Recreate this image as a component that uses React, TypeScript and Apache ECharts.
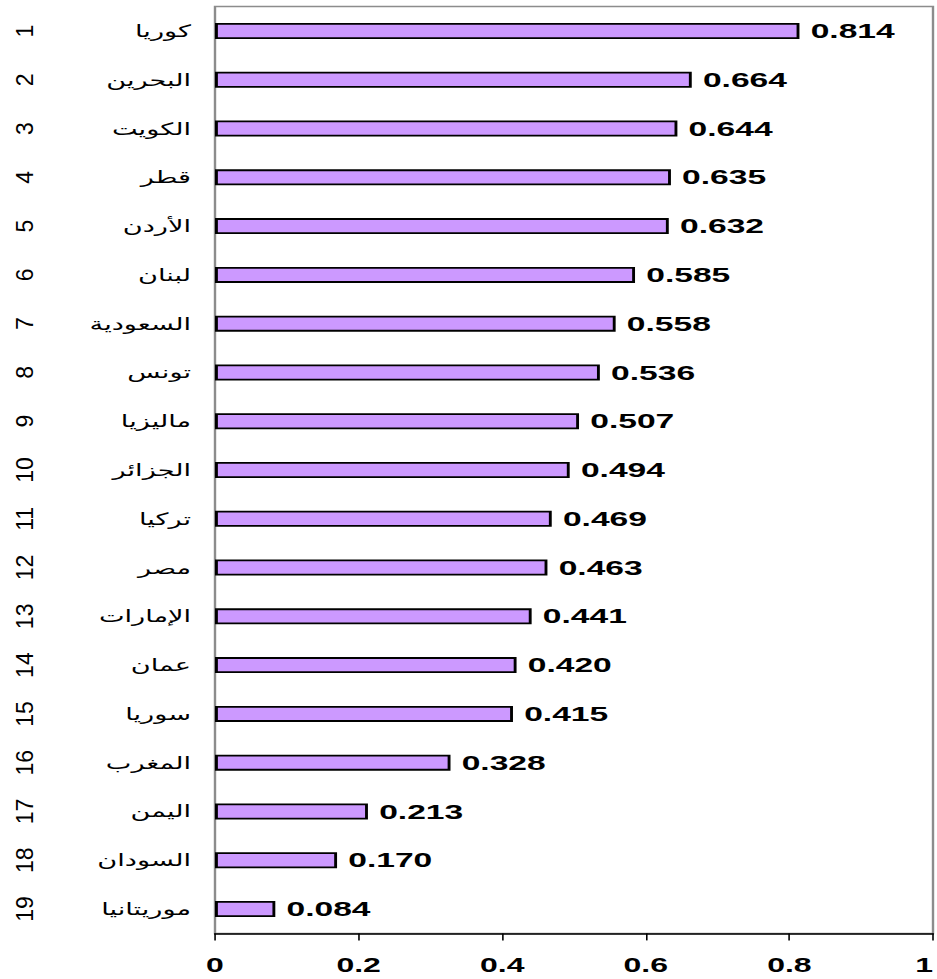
import React, { useEffect, useRef } from 'react';
import * as echarts from 'echarts';

const countries = [
  'كوريا', 'البحرين', 'الكويت', 'قطر', 'الأردن', 'لبنان', 'السعودية', 'تونس', 'ماليزيا', 'الجزائر',
  'تركيا', 'مصر', 'الإمارات', 'عمان', 'سوريا', 'المغرب', 'اليمن', 'السودان', 'موريتانيا',
];
const ranks = ['1', '2', '3', '4', '5', '6', '7', '8', '9', '10', '11', '12', '13', '14', '15', '16', '17', '18', '19'];
const values = [
  0.814, 0.664, 0.644, 0.635, 0.632, 0.585, 0.558, 0.536, 0.507, 0.494,
  0.469, 0.463, 0.441, 0.42, 0.415, 0.328, 0.213, 0.17, 0.084,
];
const xMin = 0;
const xMax = 1;
const xStep = 0.2;

const PAGE_W = 937;
const PAGE_H = 979;
const INNER_W = 586;
const SX = PAGE_W / INNER_W;
const GRID_TOP = 6.6;
const GRID_BOTTOM = PAGE_H - 933.4;

export default function App() {
  const ref = useRef<HTMLDivElement>(null);
  const ref2 = useRef<HTMLDivElement>(null);
  useEffect(() => {
    if (!ref.current || !ref2.current) return;
    const chart = echarts.init(ref.current, undefined, { renderer: 'svg', width: INNER_W, height: PAGE_H });
    const gl = 215 / SX;
    const gr = INNER_W - 933 / SX;
    chart.setOption({
      animation: false,
      grid: {
        left: gl,
        right: gr,
        top: GRID_TOP,
        bottom: GRID_BOTTOM,
        outerBoundsMode: 'none',
        containLabel: false,
        show: true,
        borderColor: '#8c8c8c',
        borderWidth: 1.5,
        backgroundColor: 'transparent',
      },
      xAxis: {
        type: 'value',
        min: xMin,
        max: xMax,
        interval: xStep,
        splitLine: { show: false },
        axisLine: { show: true, lineStyle: { color: '#000', width: 1.5 } },
        axisTick: { show: true, length: 7, lineStyle: { color: '#000', width: 1 } },
        axisLabel: {
          margin: 22,
          fontSize: 20,
          fontWeight: 'bold',
          fontFamily: 'Arial, "Liberation Sans", sans-serif',
          color: '#000',
          alignMaxLabel: 'right',
          formatter: (v: number) => String(Math.round(v * 10) / 10),
        },
      },
      yAxis: {
        type: 'category',
        data: countries,
        inverse: true,
        position: 'left',
        axisLine: { show: false },
        axisTick: { show: false },
        splitLine: { show: false },
        axisLabel: {
          margin: 15,
          fontSize: 17,
          color: '#000',
          fontFamily: 'Arial, "DejaVu Sans", sans-serif',
        },
      },
      series: [
        {
          type: 'bar',
          data: values,
          barWidth: 16,
          itemStyle: { color: '#CC99FF', borderColor: '#000', borderWidth: 1.8 },
          label: {
            show: true,
            position: 'right',
            distance: 7,
            fontSize: 21,
            fontWeight: 'bold',
            color: '#000',
            fontFamily: 'Arial, "Liberation Sans", sans-serif',
            formatter: (p: any) => Number(p.value).toFixed(3),
          },
        },
      ],
    });

    const chart2 = echarts.init(ref2.current, undefined, { renderer: 'svg', width: PAGE_W, height: PAGE_H });
    chart2.setOption({
      animation: false,
      grid: {
        left: 215,
        right: 4,
        top: GRID_TOP,
        bottom: GRID_BOTTOM,
        outerBoundsMode: 'none',
        containLabel: false,
        show: false,
      },
      xAxis: { type: 'value', show: false, min: xMin, max: xMax },
      yAxis: {
        type: 'category',
        data: ranks,
        inverse: true,
        position: 'left',
        offset: 173,
        axisLine: { show: false },
        axisTick: { show: false },
        splitLine: { show: false },
        axisLabel: {
          margin: 6,
          rotate: 90,
          fontSize: 23,
          color: '#000',
          fontFamily: 'Arial, "Liberation Sans", sans-serif',
        },
      },
      series: [{ type: 'bar', data: [] }],
    });
    return () => {
      chart.dispose();
      chart2.dispose();
    };
  }, []);
  return (
    <div style={{ position: 'fixed', left: 0, top: 0, width: PAGE_W, height: PAGE_H, overflow: 'hidden', background: '#fff' }}>
      <div
        ref={ref}
        style={{ position: 'absolute', left: 0, top: 0, width: INNER_W, height: PAGE_H, transform: `scaleX(${SX})`, transformOrigin: '0 0' }}
      />
      <div
        ref={ref2}
        style={{ position: 'absolute', left: 0, top: 0, width: PAGE_W, height: PAGE_H, pointerEvents: 'none' }}
      />
    </div>
  );
}
